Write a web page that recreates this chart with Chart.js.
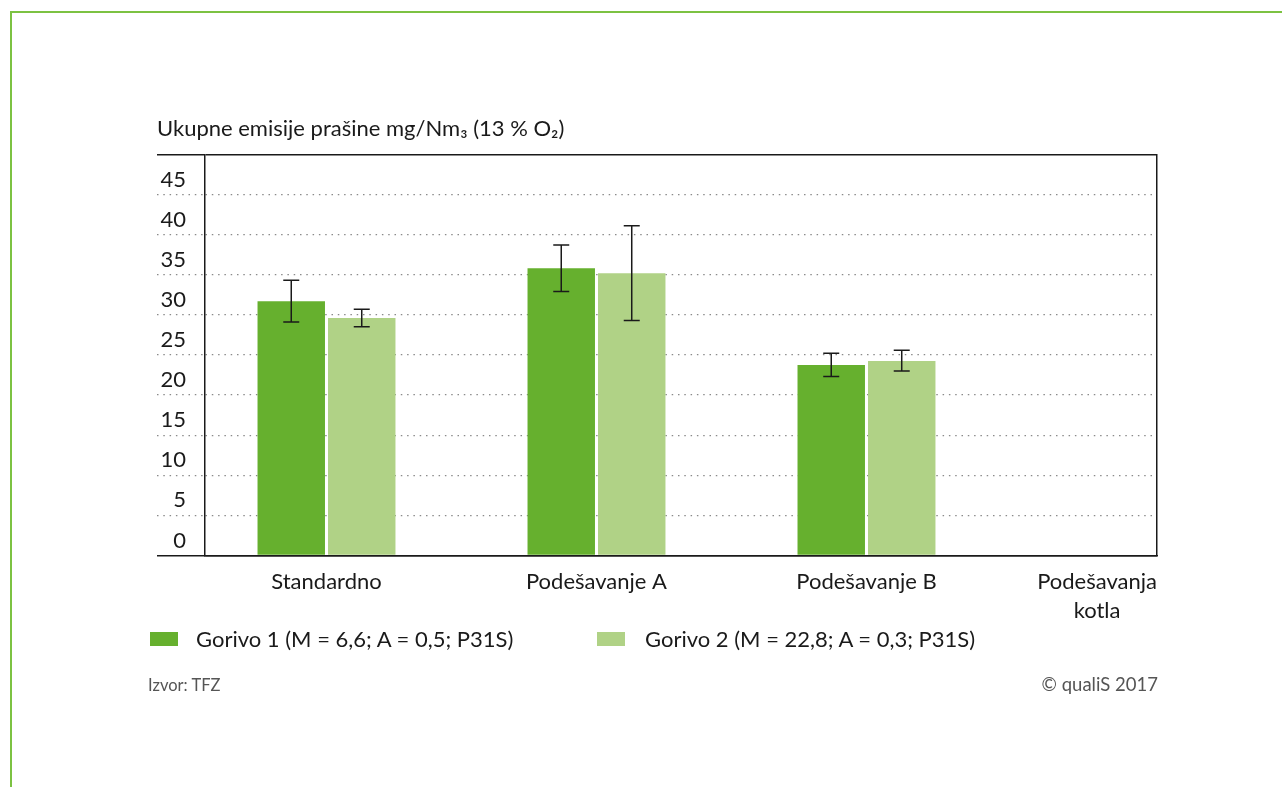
<!DOCTYPE html>
<html><head><meta charset="utf-8">
<script src="https://cdn.jsdelivr.net/npm/chart.js@4"></script>
<style>
html,body{margin:0;padding:0;background:#fff;}
body{width:1282px;height:787px;position:relative;overflow:hidden;font-family:Lato,"Liberation Sans",sans-serif;}
#frame{position:absolute;left:10px;top:11px;width:1400px;height:900px;border-top:2px solid #7cc242;border-left:2px solid #7cc242;}
#wrap{position:absolute;left:0;top:0;width:1282px;height:787px;}
canvas{display:block;}
.leg{position:absolute;font-size:22px;line-height:28px;color:#1a1a1a;white-space:nowrap;}
.box{position:absolute;width:28px;height:14px;}
.foot{position:absolute;font-size:16.5px;line-height:22px;color:#555;white-space:nowrap;}
</style></head><body>
<div id="frame"></div>
<div id="wrap"><canvas id="c" width="1282" height="787"></canvas></div>
<div id="legend"></div>
<div class="foot" id="src" style="left:148px;top:674px"></div>
<div class="foot" id="copy" style="right:124px;top:673px;font-size:18.5px"></div>
<script>
const categories = ['Standardno', 'Podešavanje A', 'Podešavanje B'];
const axisEndLabel = ['Podešavanja', 'kotla'];
const seriesNames = ['Gorivo 1 (M = 6,6; A = 0,5; P31S)', 'Gorivo 2 (M = 22,8; A = 0,3; P31S)'];
const gorivo1 = [31.7, 35.8, 23.75];
const gorivo1Low = [29.1, 32.9, 22.3];
const gorivo1High = [34.3, 38.7, 25.2];
const gorivo2 = [29.6, 35.2, 24.25];
const gorivo2Low = [28.5, 29.3, 23.0];
const gorivo2High = [30.7, 41.1, 25.6];
const yMin = 0, yMax = 50, yStep = 5;
const titleText = 'Ukupne emisije prašine mg/Nm₃ (13 % O₂)';
const sourceText = 'Izvor: TFZ';
const copyrightText = '© qualiS 2017';
const colors = ['#66b02e', '#b0d286'];

const FONT = 'Lato, "Liberation Sans", sans-serif';
const FS = 22;

document.getElementById('src').textContent = sourceText;
document.getElementById('copy').textContent = copyrightText;

// HTML legend
const legendPos = [{box: 150, text: 196}, {box: 597, text: 645}];
const legendEl = document.getElementById('legend');
seriesNames.forEach((n, i) => {
  const b = document.createElement('div');
  b.className = 'box';
  b.style.left = legendPos[i].box + 'px';
  b.style.top = '632px';
  b.style.background = colors[i];
  legendEl.appendChild(b);
  const t = document.createElement('div');
  t.className = 'leg';
  t.style.left = legendPos[i].text + 'px';
  t.style.top = '625px';
  t.textContent = n;
  legendEl.appendChild(t);
});

const errorBars = {
  id: 'errorBars',
  afterDatasetsDraw(chart) {
    const ctx = chart.ctx;
    const y = chart.scales.y;
    chart.data.datasets.forEach((ds, di) => {
      const meta = chart.getDatasetMeta(di);
      meta.data.forEach((bar, i) => {
        const lo = y.getPixelForValue(ds.errLow[i]);
        const hi = y.getPixelForValue(ds.errHigh[i]);
        const x = bar.x;
        ctx.save();
        ctx.strokeStyle = '#1a1a1a';
        ctx.lineWidth = 1.5;
        ctx.beginPath();
        ctx.moveTo(x, hi); ctx.lineTo(x, lo);
        ctx.moveTo(x - 8, hi); ctx.lineTo(x + 8, hi);
        ctx.moveTo(x - 8, lo); ctx.lineTo(x + 8, lo);
        ctx.stroke();
        ctx.restore();
      });
    });
  }
};

const isFrame = v => v === yMin || v === yMax;

new Chart(document.getElementById('c'), {
  type: 'bar',
  data: {
    datasets: [
      {label: seriesNames[0], data: categories.map((c, i) => ({x: i, y: gorivo1[i]})),
       errLow: gorivo1Low, errHigh: gorivo1High, backgroundColor: colors[0],
       categoryPercentage: 0.6114, barPercentage: 0.957},
      {label: seriesNames[1], data: categories.map((c, i) => ({x: i, y: gorivo2[i]})),
       errLow: gorivo2Low, errHigh: gorivo2High, backgroundColor: colors[1],
       categoryPercentage: 0.6114, barPercentage: 0.957}
    ]
  },
  plugins: [errorBars],
  options: {
    responsive: false,
    animation: false,
    devicePixelRatio: 1,
    layout: {padding: {left: 157, right: 125, top: 100, bottom: 151.5}},
    plugins: {
      legend: {display: false},
      tooltip: {enabled: false},
      title: {
        display: true, text: titleText, align: 'start', color: '#1a1a1a',
        font: {family: FONT, size: FS, weight: 'normal', lineHeight: 1.2},
        padding: {top: 16, bottom: 12}
      }
    },
    scales: {
      x: {
        type: 'linear', min: -0.45, max: 3.076, offset: false,
        afterBuildTicks: s => { s.ticks = [0, 1, 2, 2.854].map(v => ({value: v})); },
        afterFit: s => { s.height = 80; },
        grid: {display: false, drawTicks: false, offset: false},
        border: {display: true, color: '#1a1a1a', width: 1.5},
        ticks: {
          autoSkip: false, maxRotation: 0, minRotation: 0, padding: 12, color: '#1a1a1a',
          font: {family: FONT, size: FS, lineHeight: 1.32},
          callback: (v, i) => i < categories.length ? categories[i] : axisEndLabel
        }
      },
      y: {
        type: 'linear', min: yMin, max: yMax, position: 'left',
        afterFit: s => { s.width = 48; },
        grid: {
          drawTicks: true, tickLength: 48,
          color: c => isFrame(c.tick.value) ? '#1a1a1a' : '#8a8a8a',
          lineWidth: c => isFrame(c.tick.value) ? 1.5 : 1.2,
          tickColor: c => isFrame(c.tick.value) ? '#1a1a1a' : '#8a8a8a',
          tickWidth: c => isFrame(c.tick.value) ? 1.5 : 1.2,
          tickBorderDash: c => isFrame(c.tick.value) ? [] : [1.5, 4.8]
        },
        border: {
          display: true, color: '#1a1a1a', width: 1.5,
          dash: c => (c.tick && !isFrame(c.tick.value)) ? [1.5, 4.8] : []
        },
        ticks: {
          stepSize: yStep, autoSkip: false, padding: -29, labelOffset: -15, color: '#1a1a1a',
          font: {family: FONT, size: FS, lineHeight: 1.2},
          callback: v => v === yMax ? '' : String(v)
        }
      },
      y2: {
        type: 'linear', min: yMin, max: yMax, position: 'right',
        afterFit: s => { s.width = 0; },
        grid: {drawOnChartArea: false, drawTicks: false},
        border: {display: true, color: '#1a1a1a', width: 1.5},
        ticks: {display: false}
      }
    }
  }
});
</script>
</body></html>
